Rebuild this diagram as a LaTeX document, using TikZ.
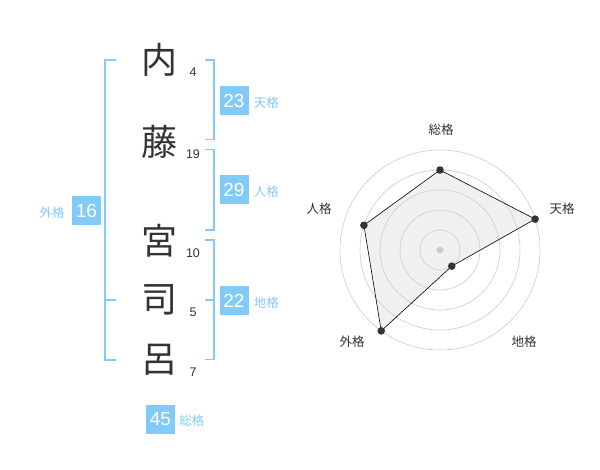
\documentclass[tikz,border=0pt]{standalone}
\usepackage{fontspec}
\setmainfont{Liberation Sans}
\newfontfamily\kanji{Noto Sans CJK JP}
\usepackage{tikz}
\usetikzlibrary{positioning}
\definecolor{kakuBlue}{HTML}{82CBF8}
\definecolor{ink}{HTML}{333333}
\definecolor{ringGrey}{HTML}{CCCCCC}
\definecolor{areaGrey}{HTML}{F0F0F0}
\tikzset{
  kaku bracket/.style={draw=kakuBlue,line width=1.6pt},
  radar ring/.style={draw=ringGrey,line width=0.6pt}
}

\begin{document}
\begin{tikzpicture}[x=1pt,y=-1pt,
  name char/.style={font=\kanji\fontsize{36}{36}\selectfont,text=ink,inner sep=0pt},
  stroke count/.style={font=\fontsize{12.5}{12.5}\selectfont,text=ink,inner sep=0pt},
  kaku box/.style={fill=kakuBlue,text=white,minimum width=29pt,minimum height=29pt,
    inner sep=0pt,font=\fontsize{19}{19}\selectfont},
  kaku name/.style={text=kakuBlue,font=\kanji\fontsize{12.5}{12.5}\selectfont,inner sep=0pt,yshift=-2pt},
  radar name/.style={text=ink,font=\kanji\fontsize{12.5}{12.5}\selectfont,inner sep=0pt}
]
\useasboundingbox[fill=white] (0,0) rectangle (600,470);

% name and stroke counts
\foreach \ch/\n/\y [count=\i] in {内/4/60,藤/19/142,宮/10/241,司/5/300,呂/7/360} {
  \node[name char] (char\i) at (159,\y) {\ch};
  \node[stroke count] (count\i) at (193,\y+12.5) {\n};
}

% brackets
\draw[kaku bracket] (116,60) -| (105,360) -- (116,360);
\draw[kaku bracket] (105,300) -- (116,300);
\draw[kaku bracket] (205,60) -| (214,139.5) -- (205,139.5);
\draw[kaku bracket] (205,149.5) -| (214,230) -- (205,230);
\draw[kaku bracket] (205,240) -| (214,359.5) -- (205,359.5);
\draw[kaku bracket] (205,300) -- (214,300);

% kakusu
\node[kaku box] (ten) at (234,100.5) {23};
\node[kaku name,right=5pt of ten] (tenName) {天格};
\node[kaku box] (jin) at (234,190) {29};
\node[kaku name,right=5pt of jin] (jinName) {人格};
\node[kaku box] (chi) at (234,300.5) {22};
\node[kaku name,right=5pt of chi] (chiName) {地格};
\node[kaku box] (gai) at (86.5,210.5) {16};
\node[kaku name,left=7pt of gai] (gaiName) {外格};
\node[kaku box] (so) at (160.5,419) {45};
\node[kaku name,right=4pt of so] (soName) {総格};

% radar chart
\begin{scope}[shift={(440,250)},y=1pt]
  \foreach \ang/\lv/\nm in {90/4/so,18/5/ten,-54/1/chi,-126/5/gai,162/4/jin}
    \coordinate (p\nm) at (\ang:{\lv*20});
  \fill[areaGrey] (pso) -- (pten) -- (pchi) -- (pgai) -- (pjin) -- cycle;
  \foreach \r in {20,40,...,100}
    \draw[radar ring] (0,0) circle[radius=\r];
  \fill[ringGrey] (0,0) circle[radius=3.5];
  \draw[black,line width=0.6pt] (pso) -- (pten) -- (pchi) -- (pgai) -- (pjin) -- cycle;
  \foreach \nm in {so,ten,chi,gai,jin}
    \fill[ink] (p\nm) circle[radius=3.8];
  \node[radar name] (rSo) at (1,120) {総格};
  \node[radar name] (rTen) at (122,41) {天格};
  \node[radar name] (rChi) at (84,-92) {地格};
  \node[radar name] (rGai) at (-88,-92) {外格};
  \node[radar name] (rJin) at (-121,41) {人格};
\end{scope}
\end{tikzpicture}
\end{document}
